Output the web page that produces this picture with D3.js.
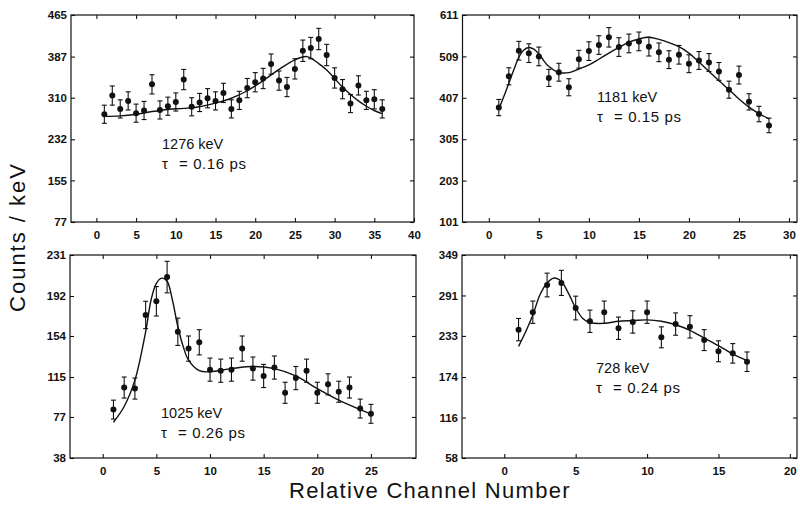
<!DOCTYPE html>
<html><head><meta charset="utf-8">
<script src="https://cdn.jsdelivr.net/npm/d3@7"></script>
<style>
body{margin:0;background:#fff}
svg{display:block}
text{font-family:"Liberation Sans",Arial,Helvetica,sans-serif;fill:#111}
</style>
</head><body>
<svg id="c" width="800" height="506"></svg>
<script>
// ---------- data ----------
const ch1 = [1,2,3,4,5,6,7,8,9,10,11,12,13,14,15,16,17,18,19,20,21,22,23,24,25,26,27,28,29,30,31,32,33,34,35,36];
const counts1 = [279,314,289,304,281,286,335,287,294,302,344,293,301,309,304,319,289,305,328,339,346,373,342,330,364,398,403,420,390,347,326,299,333,305,307,289];
const err1 = [17,18,17,17,17,17,18,17,17,17,19,17,17,18,17,18,17,17,18,18,19,19,18,18,19,20,20,20,20,19,18,17,18,17,18,17];
const fit1X = [1,3,5,7,9,11,13,15,17,19,21,23,25,26.5,28,29,30,31,32,33,34,35,36];
const fit1Y = [275,276,279,284,288,290,293,300,309,323,342,363,381,387,374,362,346,330,316,304,294,286,280];

const ch2 = [1,2,3,4,5,6,7,8,9,10,11,12,13,14,15,16,17,18,19,20,21,22,23,24,25,26,27,28];
const counts2 = [383,460,523,517,509,456,470,433,502,522,537,556,532,541,546,533,519,501,513,491,499,494,472,427,463,397,367,339];
const err2 = [20,21,23,23,23,21,22,21,22,23,23,24,23,23,23,23,23,22,23,22,22,22,22,21,22,20,19,18];
const fit2X = [1,1.5,2,2.5,3,3.5,4,4.5,5,5.5,6,7,7.5,8,9,10,11,12,13,14,15,16,17,18,19,20,21,22,23,24,25,26,27,28];
const fit2Y = [379,410,443,476,507,525,531,527,515,498,484,469,468,469,478,488,502,517,531,544,552,556,551,543,533,517,495,472,449,427,404,384,368,355];

const ch3 = [1,2,3,4,5,6,7,8,9,10,11,12,13,14,15,16,17,18,19,20,21,22,23,24,25];
const counts3 = [84,105,104,174,187,210,158,142,148,122,121,122,142,123,116,124,100,114,121,100,108,101,105,85,80];
const err3 = [9,10,10,13,14,15,13,12,12,11,11,11,12,11,11,11,10,11,11,10,10,10,10,9,9];
const fit3X = [1,2,3,4,4.5,5,5.5,6,6.5,7,7.5,8,9,10,12,14,16,18,20,22,24,25];
const fit3Y = [72,87,112,158,188,204,209,206,188,163,144,131,121,120,123,125,123,116,104,93,84,80];

const ch4 = [1,2,3,4,5,6,7,8,9,10,11,12,13,14,15,16,17];
const counts4 = [242,267,306,309,273,254,267,244,253,267,231,250,246,227,211,208,196];
const err4 = [16,16,17,18,17,16,16,16,16,16,15,16,16,15,15,14,14];
const fit4X = [1,1.5,2,2.5,3,3.5,4,4.5,5,5.5,6,7,8,9,10,11,12,13,14,15,16,17];
const fit4Y = [218,239,263,292,309,316,311,294,273,258,252,251,254,255,256,254,249,241,230,219,207,198];

const yTicks1 = [77,155,232,310,387,465];
const yTicks2 = [101,203,305,407,509,611];
const yTicks3 = [38,77,115,154,192,231];
const yTicks4 = [58,116,174,233,291,349];
const xTicks1 = [0,5,10,15,20,25,30,35,40];
const xTicks2 = [0,5,10,15,20,25,30];
const xTicks3 = [0,5,10,15,20,25];
const xTicks4 = [0,5,10,15,20];

const energies = ["1276 keV","1181 keV","1025 keV","728 keV"];
const lifetimes = ["0.16","0.15","0.26","0.24"];

const yTitle = "Counts / keV";
const xTitle = "Relative Channel Number";

// ---------- layout ----------
const panels = [
  {ch:ch1,v:counts1,e:err1,fx:fit1X,fy:fit1Y,xt:xTicks1,yt:yTicks1,xd:[-3.2,40],yd:[77,465],L:71,R:414,T:15,B:222,tx:162,ty:149},
  {ch:ch2,v:counts2,e:err2,fx:fit2X,fy:fit2Y,xt:xTicks2,yt:yTicks2,xd:[-2.63,30.8],yd:[101,611],L:462.5,R:797,T:15,B:222,tx:597,ty:102},
  {ch:ch3,v:counts3,e:err3,fx:fit3X,fy:fit3Y,xt:xTicks3,yt:yTicks3,xd:[-3.05,29.2],yd:[38,231],L:70,R:416,T:255,B:458,tx:161,ty:418},
  {ch:ch4,v:counts4,e:err4,fx:fit4X,fy:fit4Y,xt:xTicks4,yt:yTicks4,xd:[-2.96,20.5],yd:[58,349],L:462,R:797,T:255,B:458,tx:596,ty:373}
];

const svg = d3.select("#c");
const ink = "#111";

panels.forEach((p,i)=>{
  const x = d3.scaleLinear().domain(p.xd).range([p.L,p.R]);
  const y = d3.scaleLinear().domain(p.yd).range([p.B,p.T]);
  const g = svg.append("g");

  const style = sel => {
    sel.select(".domain").remove();
    sel.selectAll("line").attr("stroke",ink).attr("stroke-width",1.1);
    sel.selectAll("text").style("font-size","11.5px").style("font-weight","bold").attr("fill",ink);
  };
  g.append("g").attr("transform",`translate(0,${p.B})`)
    .call(d3.axisBottom(x).tickValues(p.xt).tickSize(-4).tickPadding(9).tickFormat(d3.format("d"))).call(style);
  g.append("g").attr("transform",`translate(0,${p.T})`)
    .call(d3.axisTop(x).tickValues(p.xt.filter(t=>x(t)<p.R-2)).tickSize(-4).tickFormat("")).call(style);
  g.append("g").attr("transform",`translate(${p.L},0)`)
    .call(d3.axisLeft(y).tickValues(p.yt).tickSize(-4).tickPadding(4).tickFormat(d3.format("d"))).call(style);
  g.append("g").attr("transform",`translate(${p.R},0)`)
    .call(d3.axisRight(y).tickValues(p.yt).tickSize(-4).tickFormat("")).call(style);
  g.append("rect").attr("x",p.L).attr("y",p.T).attr("width",p.R-p.L).attr("height",p.B-p.T)
    .attr("fill","none").attr("stroke",ink).attr("stroke-width",1.2);

  // fit curve
  const fit = p.fx.map((d,k)=>[d,p.fy[k]]);
  g.append("path").datum(fit)
    .attr("d",d3.line().x(d=>x(d[0])).y(d=>y(d[1])).curve(d3.curveCatmullRom.alpha(0.5)))
    .attr("fill","none").attr("stroke",ink).attr("stroke-width",1.4);

  // error bars
  const pts = p.ch.map((c,k)=>({c:c,v:p.v[k],e:p.e[k]}));
  const eb = g.append("g").attr("stroke",ink).attr("stroke-width",1.1);
  eb.selectAll(".ev").data(pts).join("line").attr("class","ev")
    .attr("x1",d=>x(d.c)).attr("x2",d=>x(d.c)).attr("y1",d=>y(d.v-d.e)).attr("y2",d=>y(d.v+d.e));
  eb.selectAll(".ct").data(pts).join("line").attr("class","ct")
    .attr("x1",d=>x(d.c)-2.5).attr("x2",d=>x(d.c)+2.5).attr("y1",d=>y(d.v+d.e)).attr("y2",d=>y(d.v+d.e));
  eb.selectAll(".cb").data(pts).join("line").attr("class","cb")
    .attr("x1",d=>x(d.c)-2.5).attr("x2",d=>x(d.c)+2.5).attr("y1",d=>y(d.v-d.e)).attr("y2",d=>y(d.v-d.e));
  g.append("g").selectAll("circle").data(pts).join("circle")
    .attr("cx",d=>x(d.c)).attr("cy",d=>y(d.v)).attr("r",3).attr("fill",ink);

  // annotation
  g.append("text").attr("x",p.tx).attr("y",p.ty).style("font-size","14.5px").text(energies[i]);
  const t2 = g.append("text").attr("x",p.tx).attr("y",p.ty+20).style("font-size","15px");
  t2.append("tspan").text("τ");
  t2.append("tspan").attr("x",p.tx+17).style("letter-spacing","0.6px").text("= " + lifetimes[i] + " ps");
});

svg.append("text").attr("transform","translate(25,237) rotate(-90)").attr("text-anchor","middle")
  .style("font-size","22px").style("letter-spacing","2px").text(yTitle);
svg.append("text").attr("x",430).attr("y",498).attr("text-anchor","middle")
  .style("font-size","22px").style("letter-spacing","1.3px").text(xTitle);
</script>
</body></html>
